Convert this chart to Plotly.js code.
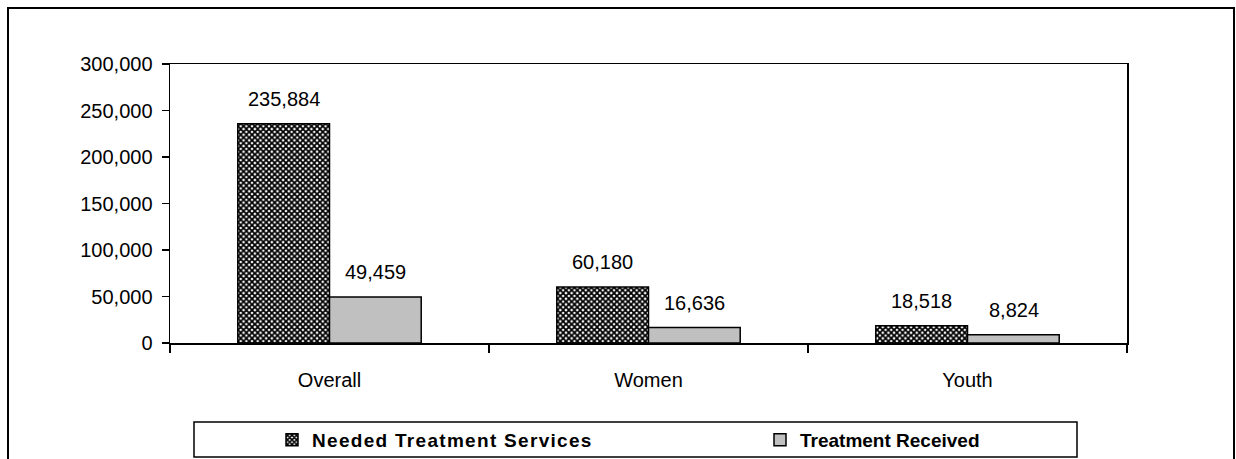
<!DOCTYPE html>
<html>
<head>
<meta charset="utf-8">
<script src="https://cdn.plot.ly/plotly-3.0.1.min.js"></script>
<style>
html,body{margin:0;padding:0;background:#fff;}
#chart{width:1236px;height:459px;}
.legendtext{letter-spacing:1.3px;}
</style>
</head>
<body>
<div id="chart"></div>
<script>
var categories = ["Overall", "Women", "Youth"];
var needed = [235884, 60180, 18518];
var received = [49459, 16636, 8824];
var seriesNames = ["Needed Treatment Services", "Treatment Received"];
var yTicks = [0, 50000, 100000, 150000, 200000, 250000, 300000];

var W = 1236, H = 459;
var L = 170, R = 109, T = 64, B = 116;
var pw = W - L - R, ph = H - T - B;
function px(x){ return (x - L) / pw; }
function py(y){ return (H - B - y) / ph; }

var font = "Liberation Sans, Arial, sans-serif";

var traces = [
  {
    type: "bar", name: seriesNames[0], x: categories, y: needed, legend: "legend",
    marker: {
      color: "#ffffff",
      line: {color: "#000000", width: 1.5},
      pattern: {shape: "x", size: 4, solidity: 0.7, fgcolor: "#000000", bgcolor: "#ffffff", fillmode: "replace"}
    },
    hoverinfo: "none"
  },
  {
    type: "bar", name: seriesNames[1], x: categories, y: received, legend: "legend2",
    marker: {color: "#c0c0c0", line: {color: "#000000", width: 1.5}},
    hoverinfo: "none"
  }
];

function fmt(v){ return v.toLocaleString("en-US"); }

var annotations = [];
var half = 46;
categories.forEach(function(c, i){
  annotations.push({x: c, y: needed[i], xref: "x", yref: "y", text: fmt(needed[i]), showarrow: false,
    xshift: -half, yanchor: "bottom", yshift: 12, font: {family: font, size: 20, color: "#000"}});
  annotations.push({x: c, y: received[i], xref: "x", yref: "y", text: fmt(received[i]), showarrow: false,
    xshift: half, yanchor: "bottom", yshift: 12, font: {family: font, size: 20, color: "#000"}});
});

function legendSpec(xpix){
  return {
    orientation: "h", x: px(xpix), xanchor: "left", y: py(421), yanchor: "top",
    font: {family: font, size: 19, color: "#000", weight: "bold"},
    bgcolor: "rgba(0,0,0,0)", borderwidth: 0,
    itemclick: false, itemdoubleclick: false
  };
}

var layout = {
  width: W, height: H,
  margin: {l: L, r: R, t: T, b: B, pad: 0, autoexpand: false},
  paper_bgcolor: "#ffffff", plot_bgcolor: "#ffffff",
  barmode: "group", bargap: 0.425, bargroupgap: 0,
  font: {family: font, size: 20, color: "#000"},
  showlegend: true,
  legend: legendSpec(272),
  legend2: legendSpec(760),
  xaxis: {
    type: "category", showgrid: false, zeroline: false,
    showline: true, linecolor: "#000", linewidth: 1.5, mirror: true,
    ticks: "outside", tickson: "boundaries", ticklen: 8, tickcolor: "#000", tickwidth: 1.5,
    ticklabelstandoff: 18,
    tickfont: {family: font, size: 20, color: "#000"},
    fixedrange: true
  },
  yaxis: {
    range: [0, 300000], tickvals: yTicks, ticktext: yTicks.map(fmt),
    showgrid: false, zeroline: false,
    showline: true, linecolor: "#000", linewidth: 1.5, mirror: true,
    ticks: "outside", ticklen: 7, tickcolor: "#000", tickwidth: 1.5,
    ticklabelstandoff: 5,
    tickfont: {family: font, size: 20, color: "#000"},
    fixedrange: true
  },
  annotations: annotations,
  shapes: [
    {type: "rect", xref: "paper", yref: "paper", x0: px(8), x1: px(1234), y0: py(475), y1: py(8),
      line: {color: "#000", width: 2}, fillcolor: "rgba(0,0,0,0)"},
    {type: "rect", xref: "paper", yref: "paper", x0: px(194), x1: px(1077), y0: py(457), y1: py(422),
      line: {color: "#000", width: 1.5}, fillcolor: "rgba(0,0,0,0)"}
  ]
};

Plotly.newPlot("chart", traces, layout, {displayModeBar: false, staticPlot: true});
</script>
</body>
</html>
